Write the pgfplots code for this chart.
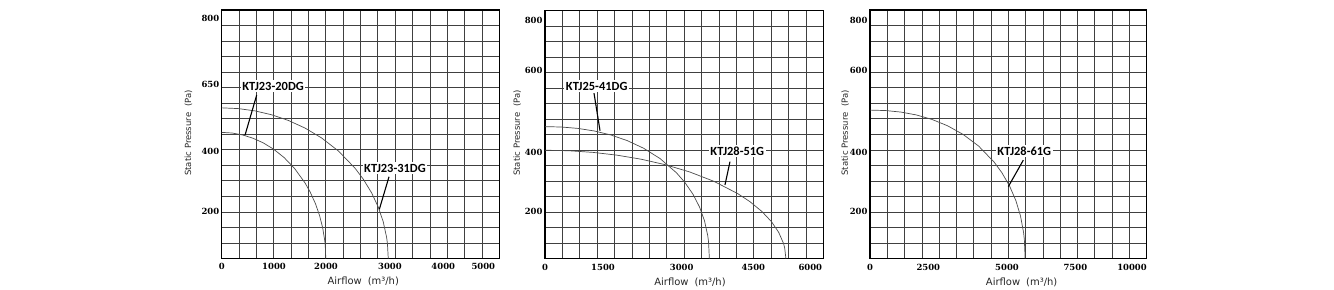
\documentclass[border=0pt]{standalone}
\usepackage{fontspec}
\setmainfont{DejaVu Sans}
\newfontfamily\tickfont{DejaVu Serif}
\newfontfamily\annfont{Carlito}
\usepackage{pgfplots}
\pgfplotsset{compat=1.18}
\pgfplotsset{
  fanaxis/.style={
    scale only axis, anchor=south west,
    xmin=0, ymin=0, ymax=800,
    scaled x ticks=false, scaled y ticks=false,
    axis line style={line width=1.3bp, black},
    grid=major, major grid style={line width=0.75bp, black!75},
    ytick={0,50,...,800}, yticklabels={}, xticklabels={},
    major tick length=0, minor tick length=0,
    tick label style={font=\tickfont\bfseries\fontsize{8.5}{8.5}\selectfont},
    /pgf/number format/assume math mode=true,
    extra x tick style={grid=none, major tick length=0, xticklabel style={yshift=-1.5bp}},
    extra y tick style={grid=none, major tick length=0, yticklabel style={xshift=1bp}},
    xlabel style={font=\fontsize{10}{10}\selectfont\color{black!85}, anchor=center},
    ylabel style={font=\fontsize{8.5}{8.5}\selectfont\color{black!85}, anchor=center},
    xlabel={Airflow\hspace{6bp}(m³/h)},
    ylabel={Static Pressure\hspace{6bp}(Pa)},
  },
  curve/.style={no marks, line width=0.7bp, black!70},
}
\tikzset{
  ann/.style={fill=white, inner sep=1.5bp, font=\annfont\bfseries\fontsize{12.5}{12.5}\selectfont},
  ptr/.style={line width=1.1bp, black},
}
\begin{document}
\begin{tikzpicture}
\path[use as bounding box] (0bp,0bp) rectangle (1334bp,290bp);
% ---------------- Panel 1
\begin{axis}[fanaxis, at={(221.7bp,31.5bp)}, width=277.6bp, height=248.5bp,
  xmax=5333.33,
  xtick={0,333.33,666.67,1000,1333.33,1666.67,2000,2333.33,2666.67,3000,3333.33,3666.67,4000,4333.33,4666.67,5000,5333.33},
  extra x ticks={0,1005,2004,3233,4257,5026},
  extra x tick labels={0,1000,2000,3000,4000,5000},
  extra y ticks={774,562,344,151},
  extra y tick labels={800,650,400,200},
  xlabel style={at={(axis description cs:0.51,-0.093)}},
  ylabel style={at={(axis description cs:-0.12,0.505)}},
]
\addplot[curve] coordinates {(0,406) (200,404.0) (400,397.8) (600,387.3) (800,372.1) (1000,351.6) (1200,324.8) (1400,289.9) (1600,243.6) (1700,213.9) (1800,177.0) (1880,138.5) (1940,98.7) (1980,57.3) (1990,40.5) (2000,0)};
\addplot[curve] coordinates {(0,485) (320,482.6) (640,475.2) (960,462.7) (1280,444.5) (1600,420.0) (1920,388.0) (2240,346.4) (2560,291.0) (2720,255.5) (2880,211.4) (3008,165.5) (3104,117.9) (3168,68.4) (3184,48.4) (3200,0)};
\draw[ptr] (axis cs:672,526) -- (axis cs:448,397);
\node[ann] at (axis cs:986,555) {KTJ23-20DG};
\draw[ptr] (axis cs:3214,263) -- (axis cs:3028,158);
\node[ann] at (axis cs:3329,291) {KTJ23-31DG};
\end{axis}
% ---------------- Panel 2
\begin{axis}[fanaxis, at={(545bp,31.3bp)}, width=278.3bp, height=248bp,
  xmax=6400,
  xtick={0,400,...,6400},
  extra x ticks={0,1334,3143,4790,6101},
  extra x tick labels={0,1500,3000,4500,6000},
  extra y ticks={770,608,342,152},
  extra y tick labels={800,600,400,200},
  xlabel style={at={(axis description cs:0.521,-0.094)}},
  ylabel style={at={(axis description cs:-0.0995,0.507)}},
]
\addplot[curve] coordinates {(0,426) (378,424.8) (756,420.3) (1134,412.0) (1512,399.2) (1890,381.0) (2268,356.3) (2646,323.0) (3024,277.0) (3213,246.7) (3402,208.2) (3553,166.9) (3667,122.8) (3742,75.0) (3761,54.8) (3780,0)};
\addplot[curve] coordinates {(0,350) (554,348.2) (1108,342.9) (1662,333.9) (2216,320.8) (2770,303.1) (3324,280.0) (3878,250.0) (4432,210.0) (4709,184.4) (4986,152.6) (5208,119.4) (5374,85.1) (5485,49.4) (5512,35.0) (5540,0)};
\draw[ptr] (axis cs:1127,534) -- (axis cs:1265,413);
\node[ann] at (axis cs:1189,557) {KTJ25-41DG};
\draw[ptr] (axis cs:4254,313) -- (axis cs:4139,238);
\node[ann] at (axis cs:4422,347) {KTJ28-51G};
\end{axis}
% ---------------- Panel 3
\begin{axis}[fanaxis, at={(870bp,31.3bp)}, width=276.7bp, height=248.7bp,
  xmax=10666.67,
  xtick={0,666.67,1333.33,2000,2666.67,3333.33,4000,4666.67,5333.33,6000,6666.67,7333.33,8000,8666.67,9333.33,10000,10666.67},
  extra x ticks={0,2248,5281,7916,10101},
  extra x tick labels={0,2500,5000,7500,10000},
  extra y ticks={768,607,342,151},
  extra y tick labels={800,600,400,200},
  xlabel style={at={(axis description cs:0.548,-0.094)}},
  ylabel style={at={(axis description cs:-0.09,0.507)}},
]
\addplot[curve] coordinates {(0,478) (598,476.6) (1196,471.6) (1794,462.3) (2392,447.9) (2990,427.6) (3588,399.8) (4186,362.4) (4784,310.8) (5083,276.8) (5382,233.6) (5621,187.3) (5801,137.8) (5920,84.2) (5950,61.5) (5980,0)};
\draw[ptr] (axis cs:5910,317) -- (axis cs:5332,232);
\node[ann] at (axis cs:5948,346) {KTJ28-61G};
\end{axis}
\end{tikzpicture}
\end{document}
